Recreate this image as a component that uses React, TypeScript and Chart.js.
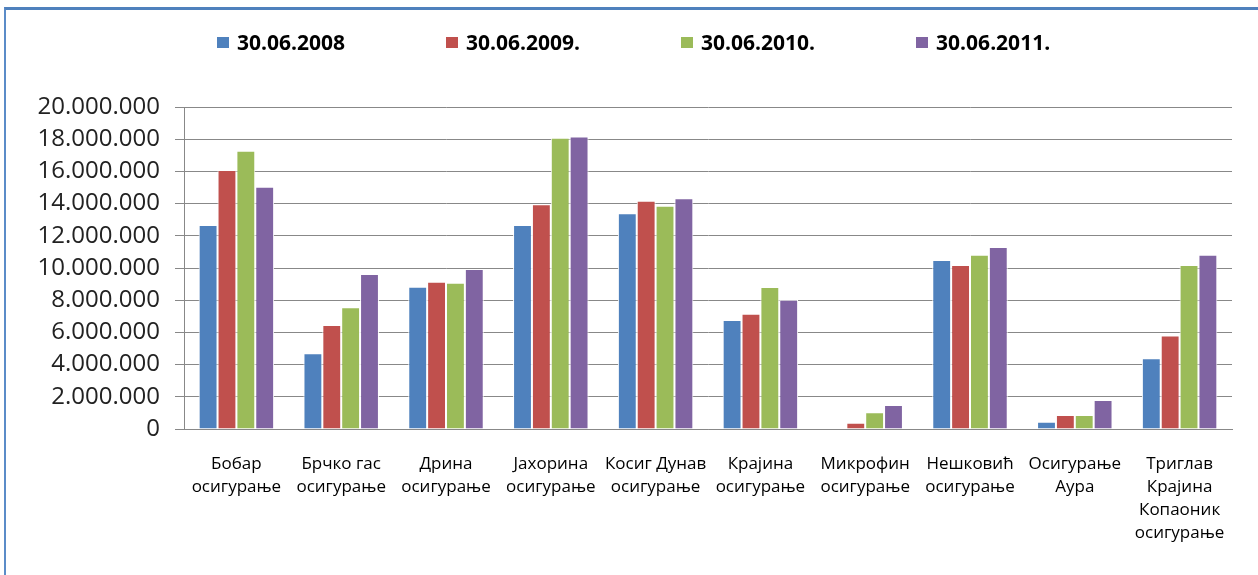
import React, { useEffect, useRef } from "react";
import { Chart, registerables } from "chart.js";

Chart.register(...registerables);

const categories: string[][] = [
  ["Бобар", "осигурање"],
  ["Брчко гас", "осигурање"],
  ["Дрина", "осигурање"],
  ["Јахорина", "осигурање"],
  ["Косиг Дунав", "осигурање"],
  ["Крајина", "осигурање"],
  ["Микрофин", "осигурање"],
  ["Нешковић", "осигурање"],
  ["Осигурање", "Аура"],
  ["Триглав", "Крајина", "Копаоник", "осигурање"],
];

const seriesLabels = ["30.06.2008", "30.06.2009.", "30.06.2010.", "30.06.2011."];
const seriesColors = ["#4F81BD", "#C0504D", "#9BBB59", "#8064A2"];

const values2008 = [12670000, 4700000, 8840000, 12670000, 13400000, 6770000, 0, 10500000, 450000, 4390000];
const values2009 = [16090000, 6460000, 9150000, 13960000, 14180000, 7160000, 390000, 10190000, 870000, 5800000];
const values2010 = [17290000, 7560000, 9090000, 18090000, 13870000, 8820000, 1040000, 10830000, 870000, 10190000];
const values2011 = [15050000, 9630000, 9940000, 18160000, 14330000, 8030000, 1490000, 11300000, 1800000, 10830000];

const seriesValues = [values2008, values2009, values2010, values2011];

const yMax = 20000000;
const yStep = 2000000;

export default function App() {
  const canvasRef = useRef<HTMLCanvasElement | null>(null);

  useEffect(() => {
    if (!canvasRef.current) return;
    const chart = new Chart(canvasRef.current, {
      type: "bar",
      data: {
        labels: categories,
        datasets: seriesValues.map((vals, i) => ({
          label: seriesLabels[i],
          data: vals,
          backgroundColor: seriesColors[i],
          borderColor: "#ffffff",
          borderWidth: 1,
          categoryPercentage: 0.72,
          barPercentage: 1.0,
        })),
      },
      options: {
        responsive: false,
        animation: false,
        devicePixelRatio: 1,
        layout: { padding: { left: 0, right: 26, top: 107, bottom: 0 } },
        plugins: {
          legend: { display: false },
          tooltip: { enabled: false },
        },
        scales: {
          x: {
            grid: { display: false },
            border: { display: true, color: "#888888", width: 1 },
            ticks: {
              autoSkip: false,
              maxRotation: 0,
              minRotation: 0,
              padding: 16,
              color: "#000000",
              font: { family: "'Open Sans'", size: 17, lineHeight: 1.35 },
            },
            afterFit: (scale: any) => {
              scale.height = 146;
            },
          },
          y: {
            min: 0,
            max: yMax,
            ticks: {
              stepSize: yStep,
              padding: 15,
              color: "#222222",
              font: { family: "'Open Sans'", size: 24 },
              callback: (v: any) => Number(v).toLocaleString("de-DE"),
            },
            grid: { color: "#888888", lineWidth: 1, tickLength: 9 },
            border: { display: true, color: "#888888", width: 1 },
            afterFit: (scale: any) => {
              scale.width = 184;
            },
          },
        },
      },
    });
    return () => chart.destroy();
  }, []);

  return (
    <div
      style={{
        position: "absolute",
        left: 0,
        top: 0,
        width: 1258,
        height: 575,
        background: "#ffffff",
        overflow: "hidden",
      }}
    >
      <div
        style={{
          position: "absolute",
          left: 4,
          top: 7,
          width: 1300,
          height: 700,
          borderTop: "3px solid #4F81BD",
          borderLeft: "2px solid #5B8CC8",
        }}
      />
      <canvas
        ref={canvasRef}
        width={1258}
        height={575}
        style={{ position: "absolute", left: 0, top: 0, width: 1258, height: 575 }}
      />
      <div
        style={{
          position: "absolute",
          left: 217,
          top: 29,
          display: "flex",
          gap: 101,
          whiteSpace: "nowrap",
          fontFamily: "'Open Sans'",
          fontWeight: 700,
          fontSize: 21,
          lineHeight: "26px",
          color: "#000000",
        }}
      >
        {seriesLabels.map((lab, i) => (
          <div key={lab} style={{ display: "flex", alignItems: "center" }}>
            <span
              style={{
                display: "inline-block",
                width: 12,
                height: 11,
                background: seriesColors[i],
                marginRight: 8,
              }}
            />
            <span>{lab}</span>
          </div>
        ))}
      </div>
    </div>
  );
}
